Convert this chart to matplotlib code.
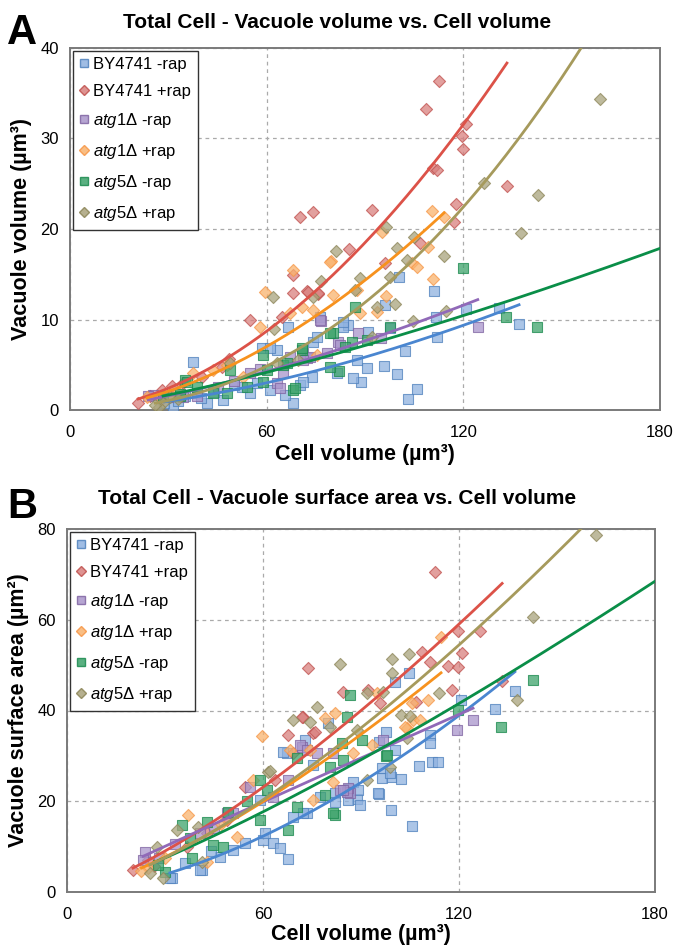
import numpy as np
import matplotlib
matplotlib.use('Agg')
from matplotlib import pyplot as plt
from matplotlib.lines import Line2D

plt.rcParams['font.family'] = ['Liberation Sans', 'DejaVu Sans']
plt.rcParams['mathtext.fontset'] = 'custom'
plt.rcParams['mathtext.it'] = 'Liberation Sans:italic'
plt.rcParams['mathtext.rm'] = 'Liberation Sans'

# ---- panel A : vacuole volume vs cell volume ----
by_m_ax = [137, 130.9, 100.4, 111.1, 120.8, 111.7, 112, 102.2, 96.1, 97.6, 90.9, 84.8, 83.3, 90.6, 95.8, 99.8,
           105.9, 103.1, 88.8, 86.3, 73.8, 81.5, 74.1, 87.6, 70.2, 37.5, 58.6, 63.2, 66.5, 68.0, 65.6, 71.1, 54.9,
           46.7, 41.8, 31.4, 61.0, 52.5, 76.3, 75.4, 28.7, 38.7, 61.0, 83.3, 35, 44, 50, 33, 40, 57]
by_m_ay = [9.5, 11.3, 14.7, 13.1, 11.2, 10.3, 8.1, 6.5, 11.6, 9.1, 8.6, 9.4, 9.2, 4.6, 4.9, 4.0,
           2.3, 1.2, 3.1, 3.5, 3.6, 4.1, 7.5, 5.5, 2.8, 5.3, 6.9, 6.6, 9.2, 0.8, 1.7, 3.1, 1.9,
           1.1, 0.8, 0.3, 2.2, 2.5, 10.3, 8.1, 0.8, 1.9, 6.9, 9.7, 1.5, 2.0, 2.8, 1.0, 1.3, 3.0]
by_p_ax = [112.6, 108.6, 120.8, 119.6, 119.9, 110.8, 133.3, 92.2, 74.1, 70.2, 117.8, 117.2, 85.1, 96.1, 106.8,
           75.8, 72.3, 54.9, 68.0, 68.0, 72.6, 64.7, 48.5, 20.8, 28.1, 34.5, 40.3, 46.4, 31.0, 24.4, 75.7, 112]
by_p_ay = [36.4, 33.3, 31.6, 30.3, 28.8, 26.7, 24.8, 22.1, 21.9, 21.3, 22.8, 20.8, 17.8, 16.2, 18.5,
           12.8, 13.2, 9.9, 14.9, 12.9, 13.0, 10.3, 5.6, 0.8, 2.2, 3.0, 3.7, 4.8, 2.6, 1.5, 12.9, 26.5]
a1_m_ax = [124.4, 76.6, 81.8, 72.3, 71.1, 76.3, 73.2, 67.1, 63.2, 65.0, 54.9, 38.7, 25.3, 34.5, 71.1, 78.4,
           82.4, 64.0, 23.9, 88, 95, 45, 30, 50, 58]
a1_m_ay = [9.2, 9.8, 7.5, 5.7, 6.3, 9.9, 5.9, 5.9, 3.0, 4.1, 4.1, 1.6, 1.7, 1.4, 5.5, 6.3,
           7.2, 2.4, 1.5, 8.5, 8.0, 2.5, 1.4, 3.2, 4.5]
a1_p_ax = [110.5, 114.1, 95.2, 79.6, 110.7, 104.3, 105.9, 96.4, 93.6, 88.5, 80.2, 87.6, 74.1, 70.8, 75.4,
           109.2, 68.0, 59.5, 58.0, 67.1, 37.5, 43.6, 23.5, 52.8, 30, 33, 28, 79.3, 48]
a1_p_ay = [22.0, 21.3, 19.7, 16.5, 14.5, 16.2, 15.8, 12.6, 10.8, 10.7, 12.7, 13.3, 11.1, 11.4, 6.1,
           18.0, 15.5, 13.0, 9.2, 10.7, 4.1, 4.4, 1.4, 3.7, 1.5, 2.0, 1.2, 16.4, 5.0]
a5_m_ax = [119.9, 142.5, 133.0, 97.6, 90.6, 86.0, 80.2, 83.9, 87.0, 82.1, 79.3, 70.8, 58.9, 60.1, 58.9, 65.0,
           70.8, 68.0, 54.0, 48.8, 47.9, 43.6, 35.1, 33.6, 38.7, 28.4, 66.2, 68.6, 35.7, 33.5, 79.3]
a5_m_ay = [15.7, 9.2, 10.3, 9.2, 7.7, 7.5, 8.5, 7.0, 11.4, 4.3, 4.8, 6.6, 6.1, 4.4, 3.1, 5.0,
           6.9, 2.2, 2.5, 4.4, 1.9, 1.9, 3.3, 1.6, 2.5, 1.5, 5.2, 2.4, 3.1, 1.8, 8.5]
a5_p_ax = [161.7, 142.8, 137.6, 126.3, 96.4, 105.0, 99.8, 81.2, 114.1, 76.6, 88.5, 97.6, 102.8, 99.2, 114.7,
           104.7, 74.1, 87.0, 92.1, 93.6, 62.0, 62.3, 28.4, 27.0, 30.5, 48.8, 63.2, 69.6, 26, 33]
a5_p_ay = [34.4, 23.8, 19.6, 25.1, 20.2, 19.1, 17.9, 17.6, 17.0, 14.3, 14.6, 14.7, 16.6, 11.7, 10.9,
           9.8, 12.5, 13.3, 8.1, 11.4, 12.5, 8.9, 0.8, 0.3, 1.4, 5.2, 5.2, 5.5, 0.5, 1.2]

# ---- panel B : vacuole surface area vs cell volume ----
by_m_bx = [137.1, 131.0, 120.6, 104.7, 100.4, 111.1, 111.1, 100.4, 97.7, 107.8, 111.7, 113.6, 102.2, 99.1, 96.4,
           95.5, 99.2, 105.6, 88.8, 86.2, 95.5, 96.4, 98.9, 87.6, 89.1, 89.7, 86.0, 95.2, 82.0, 82.0, 73.5, 72.9,
           79.9, 67.3, 75.3, 72.2, 63.1, 65.2, 67.7, 60.0, 54.5, 46.8, 41.3, 32.1, 50.8, 59.1, 69.2, 77.4, 66.1,
           60.6, 40.7, 31.5, 36, 44]
by_m_by = [44.3, 40.3, 42.3, 48.3, 46.3, 34.6, 32.8, 31.3, 35.3, 27.8, 28.7, 28.7, 24.9, 25.4, 25.1,
           21.6, 18.1, 14.5, 20.5, 22.7, 33.1, 27.3, 26.2, 24.2, 22.5, 19.2, 20.3, 21.8, 21.8, 19.8, 17.4, 33.5,
           37.2, 30.6, 28.0, 17.4, 10.8, 9.7, 7.3, 11.5, 10.8, 7.7, 4.8, 3.1, 9.3, 20.3, 16.5, 20.9, 30.9,
           13.0, 4.8, 3.1, 6.5, 9.0]
by_p_bx = [112.7, 126.4, 119.7, 120.9, 108.7, 111.1, 116.6, 119.7, 92.1, 117.9, 84.5, 133.2, 95.8, 106.8, 73.8,
           72.2, 75.3, 67.7, 75.9, 54.5, 63.7, 69.2, 20.2, 24.8, 26.6, 42.9, 49.0, 36.7, 71.9]
by_p_by = [70.5, 57.5, 57.5, 52.7, 52.9, 50.7, 49.8, 49.6, 44.5, 44.5, 44.1, 46.5, 41.6, 41.9, 49.4,
           38.6, 35.0, 34.6, 35.3, 23.1, 24.7, 30.6, 4.8, 7.1, 5.8, 13.0, 15.9, 9.9, 38.6]
a1_m_bx = [124.3, 119.4, 96.7, 86.6, 86.0, 85.7, 83.6, 71.9, 76.5, 81.4, 71.3, 73.5, 56.0, 49.0, 40.7, 23.9,
           28.2, 84.5, 63.1, 23.3, 67.7, 50.8, 33, 45]
a1_m_by = [37.9, 35.7, 33.5, 21.8, 23.0, 22.0, 22.5, 32.0, 30.6, 30.6, 32.4, 31.3, 23.1, 17.4, 13.0, 8.8,
           7.6, 22.5, 20.9, 7.1, 24.7, 17.4, 10.5, 14.0]
a1_p_bx = [114.5, 110.5, 105.6, 104.1, 106.0, 94.9, 103.5, 108.1, 82.0, 79.0, 87.6, 93.4, 81.4, 75.3, 74.4,
           59.7, 68.3, 37.0, 42.9, 24.8, 22.8, 56.9, 52.0, 30, 47]
a1_p_by = [56.2, 42.3, 41.7, 36.1, 38.0, 43.9, 36.4, 37.9, 39.4, 38.3, 30.6, 32.4, 24.2, 20.3, 31.3,
           34.4, 31.3, 17.0, 6.6, 5.3, 4.6, 24.7, 12.1, 7.5, 15.0]
a5_m_bx = [142.6, 132.9, 119.7, 86.6, 85.7, 84.2, 97.7, 84.5, 82.0, 90.3, 98.0, 80.5, 79.0, 81.4, 70.4,
           59.1, 61.2, 59.1, 67.7, 49.3, 42.9, 35.2, 37.7, 44.7, 47.8, 30.0, 38.3, 70.4, 28, 55]
a5_m_by = [46.7, 36.4, 40.1, 43.4, 38.6, 32.8, 30.0, 29.1, 17.0, 33.5, 30.2, 27.5, 21.4, 17.4, 29.5,
           24.7, 22.5, 15.9, 13.7, 17.6, 15.4, 14.8, 11.9, 10.4, 9.9, 4.4, 7.5, 18.7, 6.0, 20.0]
a5_p_bx = [161.9, 142.6, 137.8, 83.6, 99.5, 104.7, 99.5, 96.7, 113.9, 102.2, 105.0, 91.8, 98.9, 104.1, 76.5,
           74.4, 80.5, 88.8, 69.2, 61.5, 33.7, 27.6, 25.4, 29.4, 41.3, 91.8, 40.1, 62.1]
a5_p_by = [78.7, 60.6, 42.3, 50.2, 51.3, 52.4, 48.3, 44.1, 43.9, 39.0, 38.8, 24.7, 27.5, 33.9, 40.8,
           37.5, 36.4, 35.7, 37.9, 26.4, 13.7, 9.9, 4.2, 3.1, 6.6, 43.8, 14.3, 26.7]

labels = ['BY4741 -rap', 'BY4741 +rap', r'$\mathit{atg1}$Δ -rap', r'$\mathit{atg1}$Δ +rap',
          r'$\mathit{atg5}$Δ -rap', r'$\mathit{atg5}$Δ +rap']
markers = ['s', 'D', 's', 'D', 's', 'D']
face_colors = ['#8FB2E0', '#D9807E', '#A995CB', '#F9B36E', '#3DA36B', '#A9A37C']
edge_colors = ['#4F81BD', '#C0504D', '#8064A2', '#F79646', '#1A8A4E', '#8C8557']
line_colors = ['#4A86D0', '#DC5248', '#9069B8', '#F7921E', '#0A8E48', '#A69A5C']
# atg5 -rap trendline is forecast out to the axis edge
forecast_end = [None, None, None, None, 180, None]

panel_a = [(by_m_ax, by_m_ay), (by_p_ax, by_p_ay), (a1_m_ax, a1_m_ay),
           (a1_p_ax, a1_p_ay), (a5_m_ax, a5_m_ay), (a5_p_ax, a5_p_ay)]
panel_b = [(by_m_bx, by_m_by), (by_p_bx, by_p_by), (a1_m_bx, a1_m_by),
           (a1_p_bx, a1_p_by), (a5_m_bx, a5_m_by), (a5_p_bx, a5_p_by)]


def power_trend(x, y, x_end=None):
    # excel style power trendline: fit in log-log space
    x = np.asarray(x, float)
    y = np.asarray(y, float)
    b, log_a = np.polyfit(np.log(x), np.log(y), 1)
    hi = x.max() if x_end is None else x_end
    xs = np.linspace(x.min(), hi, 200)
    return xs, np.exp(log_a) * xs ** b


def draw_panel(ax, data, ymax, ystep):
    for i, (x, y) in enumerate(data):
        ax.scatter(x, y, marker=markers[i], s=44 if markers[i] == 's' else 38,
                   facecolor=face_colors[i], edgecolor=edge_colors[i], linewidth=0.8,
                   alpha=0.75, zorder=3)
    for i, (x, y) in enumerate(data):
        xs, ys = power_trend(x, y, forecast_end[i])
        ax.plot(xs, ys, color=line_colors[i], linewidth=2.0, zorder=4)
    ax.set_xlim(0, 180)
    ax.set_ylim(0, ymax)
    ax.set_xticks([0, 60, 120, 180])
    ax.set_yticks(np.arange(0, ymax + 1, ystep))
    ax.grid(True, linestyle=(0, (3, 3)), color='#AAAAAA', linewidth=0.9)
    ax.set_axisbelow(True)
    ax.tick_params(length=0, labelsize=12)
    ax.tick_params(axis='x', pad=11)
    ax.tick_params(axis='y', pad=8)
    for sp in ax.spines.values():
        sp.set_color('#7A7A7A')
        sp.set_linewidth(1.4)
    handles = [Line2D([], [], linestyle='none', marker=markers[i], markersize=5.5 if markers[i] == 's' else 5,
                      markerfacecolor=face_colors[i], markeredgecolor=edge_colors[i], alpha=0.85)
               for i in range(6)]
    leg = ax.legend(handles, labels, loc='upper left', bbox_to_anchor=(0.0, 1.0), fontsize=12,
                    handlelength=0.6, handletextpad=0.25, labelspacing=0.72, borderpad=0.4,
                    borderaxespad=0.15, fancybox=False, framealpha=1)
    leg.get_frame().set_edgecolor('#333333')
    leg.get_frame().set_linewidth(1.0)


fig = plt.figure(figsize=(6.75, 9.51), dpi=100)
ax1 = fig.add_axes([70 / 675, 1 - 410 / 951, 590 / 675, 362 / 951])
ax2 = fig.add_axes([67 / 675, 1 - 892 / 951, 588 / 675, 363 / 951])

draw_panel(ax1, panel_a, 40, 10)
draw_panel(ax2, panel_b, 80, 20)

ax1.set_xlabel('Cell volume (µm³)', fontsize=15.5, fontweight='bold', labelpad=3)
ax1.set_ylabel('Vacuole volume (µm³)', fontsize=15.5, fontweight='bold', labelpad=6)
ax2.set_xlabel('Cell volume (µm³)', fontsize=15.5, fontweight='bold', labelpad=1)
ax2.set_ylabel('Vacuole surface area (µm²)', fontsize=15.5, fontweight='bold', labelpad=6)

fig.text(0.5, 1 - 22 / 951, 'Total Cell - Vacuole volume vs. Cell volume',
         ha='center', va='center', fontsize=15, fontweight='bold')
fig.text(0.5, 1 - 499 / 951, 'Total Cell - Vacuole surface area vs. Cell volume',
         ha='center', va='center', fontsize=15, fontweight='bold')
fig.text(0.01, 1 - 44 / 951, 'A', fontsize=30, fontweight='bold', va='baseline')
fig.text(0.01, 1 - 518 / 951, 'B', fontsize=30, fontweight='bold', va='baseline')

fig.savefig('out.png', dpi=100)
